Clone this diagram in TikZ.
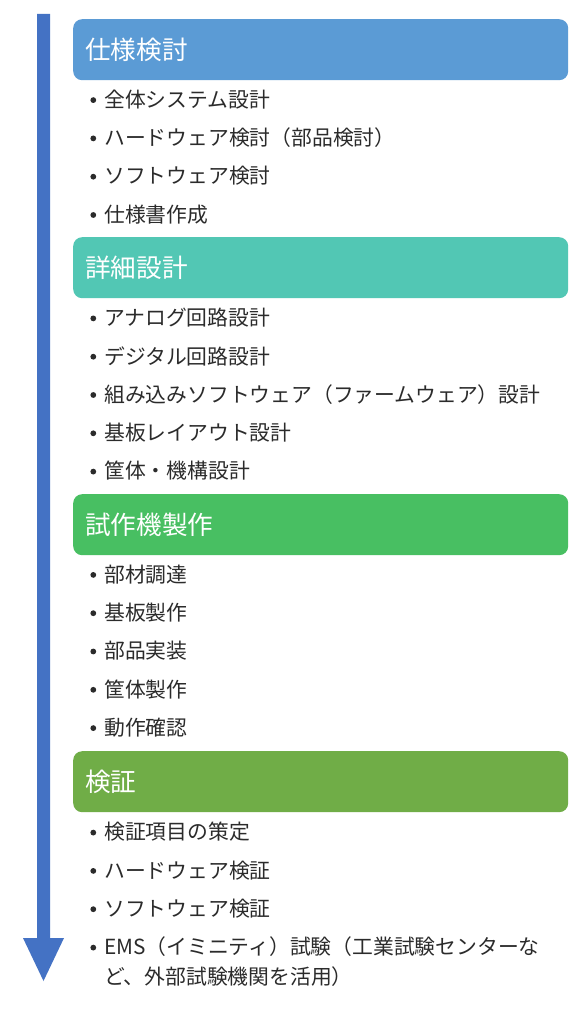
\documentclass[tikz,border=0pt]{standalone}
\usepackage{fontspec}
\newfontfamily\jp{Noto Sans CJK JP}
\definecolor{hdrA}{HTML}{5B9BD5}
\definecolor{hdrB}{HTML}{52C7B4}
\definecolor{hdrC}{HTML}{48BF62}
\definecolor{hdrD}{HTML}{70AD47}
\definecolor{arrowc}{HTML}{4472C4}
\definecolor{bodytxt}{HTML}{2B2B2B}
\begin{document}
\begin{tikzpicture}[x=1pt,y=-1pt,
  hdr/.style={anchor=north west, rounded corners=9pt, minimum width=495pt, minimum height=61pt,
    text width=471pt, inner xsep=12pt, inner ysep=0pt, align=left, text=white,
    font={\jp\fontsize{25.6}{30}\selectfont}},
  item/.style={anchor=west, inner sep=0pt, text=bodytxt, align=left,
    font={\jp\fontsize{20.8}{30}\selectfont}},
  dot/.style={circle, fill=bodytxt, inner sep=0pt, minimum size=5.8pt}]
\useasboundingbox[fill=white] (0,0) rectangle (570,1024);
% timeline arrow
\fill[arrowc] (37,14) -- (50,14) -- (50,938) -- (64,938) -- (43.5,981) -- (23,938) -- (37,938) -- cycle;
% headers
\node[hdr, fill=hdrA] (h1) at (73,19) {仕様検討};
\node[hdr, fill=hdrB] (h2) at (73,237) {詳細設計};
\node[hdr, fill=hdrC] (h3) at (73,494) {試作機製作};
\node[hdr, fill=hdrD] (h4) at (73,751) {検証};
% section 1
\foreach \y/\t [count=\i] in {99.5/全体システム設計, 137.8/ハードウェア検討（部品検討）, 176.1/ソフトウェア検討, 214.4/仕様書作成}{
  \node[dot] (a\i) at (93.3,\y+0.6) {};
  \node[item] (ta\i) at (104,\y) {\t};
}
% section 2
\foreach \y/\t [count=\i] in {317.8/アナログ回路設計, 356.1/デジタル回路設計, 394.4/組み込みソフトウェア（ファームウェア）設計, 432.7/基板レイアウト設計, 471/筐体・機構設計}{
  \node[dot] (b\i) at (93.3,\y+0.6) {};
  \node[item] (tb\i) at (104,\y) {\t};
}
% section 3
\foreach \y/\t [count=\i] in {574.3/部材調達, 612.6/基板製作, 650.9/部品実装, 689.2/筐体製作, 727.5/動作確認}{
  \node[dot] (c\i) at (93.3,\y+0.6) {};
  \node[item] (tc\i) at (104,\y) {\t};
}
% section 4
\foreach \y/\t [count=\i] in {832/検証項目の策定, 870.3/ハードウェア検証, 908.6/ソフトウェア検証}{
  \node[dot] (d\i) at (93.3,\y+0.6) {};
  \node[item] (td\i) at (104,\y) {\t};
}
\node[dot] (d4) at (93.3,947.6) {};
\node[item] (td4) at (104,962) {EMS（イミニティ）試験（工業試験センターな\\ど、外部試験機関を活用）};
\end{tikzpicture}
\end{document}
